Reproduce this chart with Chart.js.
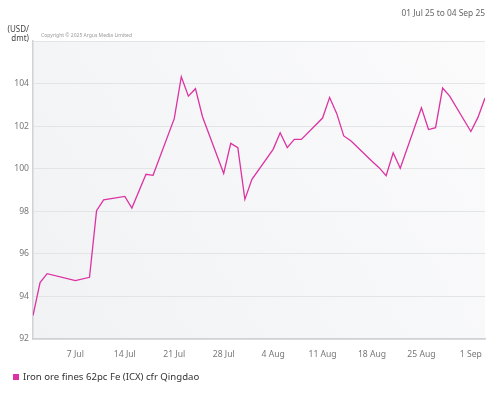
<!DOCTYPE html>
<html>
<head>
<meta charset="utf-8">
<script src="https://cdn.jsdelivr.net/npm/chart.js@4/dist/chart.umd.min.js"></script>
<style>
  html, body { margin: 0; padding: 0; background: #ffffff; }
  #wrap { width: 500px; height: 398px; position: relative; }
</style>
</head>
<body>
<div id="wrap"><canvas id="c" width="500" height="398"></canvas></div>
<script>
// ---- Data ----
const dates = [
  "2025-07-01","2025-07-02","2025-07-03","2025-07-07","2025-07-09","2025-07-10","2025-07-11",
  "2025-07-14","2025-07-15","2025-07-17","2025-07-18",
  "2025-07-21","2025-07-22","2025-07-23","2025-07-24","2025-07-25",
  "2025-07-28","2025-07-29","2025-07-30","2025-07-31","2025-08-01",
  "2025-08-04","2025-08-05","2025-08-06","2025-08-07","2025-08-08",
  "2025-08-11","2025-08-12","2025-08-13","2025-08-14","2025-08-15",
  "2025-08-18","2025-08-19","2025-08-20","2025-08-21","2025-08-22",
  "2025-08-25","2025-08-26","2025-08-27","2025-08-28","2025-08-29",
  "2025-09-01","2025-09-02","2025-09-03"
];
const ironOre = [
  93.1, 94.65, 95.07, 94.74, 94.9, 98.03, 98.54,
  98.7, 98.15, 99.74, 99.69,
  102.35, 104.32, 103.41, 103.76, 102.44,
  99.78, 101.19, 100.99, 98.56, 99.5,
  100.91, 101.69, 100.99, 101.38, 101.38,
  102.38, 103.35, 102.6, 101.54, 101.31,
  100.35, 100.05, 99.67, 100.75, 100.02,
  102.86, 101.84, 101.93, 103.79, 103.41,
  101.75, 102.41, 103.32
];
const tickDates = ["2025-07-07","2025-07-14","2025-07-21","2025-07-28","2025-08-04","2025-08-11","2025-08-18","2025-08-25","2025-09-01"];
const tickLabels = ["7 Jul","14 Jul","21 Jul","28 Jul","4 Aug","11 Aug","18 Aug","25 Aug","1 Sep"];
const seriesName = "Iron ore fines 62pc Fe (ICX) cfr Qingdao";
const rangeText = "01 Jul 25 to 04 Sep 25";
const unitLines = ["(USD/", "dmt)"];
const copyrightText = "Copyright \u00a9 2025 Argus Media Limited";
const startDate = "2025-07-01";
const endDate = "2025-09-03";

// ---- helpers ----
const dayMs = 86400000;
const t0 = Date.parse(startDate + "T00:00:00Z");
const toDay = d => Math.round((Date.parse(d + "T00:00:00Z") - t0) / dayMs);
const points = dates.map((d, i) => ({ x: toDay(d), y: ironOre[i] }));
const tickDays = tickDates.map(toDay);
const lineColor = "#dc32a2";
const FONT = "'Noto Sans', 'DejaVu Sans', sans-serif";

const decor = {
  id: 'decor',
  beforeDraw(chart) {
    const { ctx, chartArea: a } = chart;
    ctx.save();
    const g = ctx.createLinearGradient(a.left, a.bottom, a.right, a.top);
    g.addColorStop(0, '#f1f2f4');
    g.addColorStop(1, '#fbfbfc');
    ctx.fillStyle = g;
    ctx.fillRect(a.left, a.top, a.right - a.left, a.bottom - a.top);
    ctx.restore();
  },
  afterDraw(chart) {
    const { ctx, chartArea: a } = chart;
    ctx.save();
    // date range
    ctx.font = "8.4px " + FONT;
    ctx.fillStyle = '#666';
    ctx.textAlign = 'right';
    ctx.textBaseline = 'middle';
    ctx.fillText(rangeText, a.right, 14);
    // unit
    ctx.font = "8px " + FONT;
    ctx.fillStyle = '#444';
    ctx.fillText(unitLines[0], 29, 29.5);
    ctx.fillText(unitLines[1], 29, 38.5);
    // copyright
    ctx.font = "5px " + FONT;
    ctx.fillStyle = '#999';
    ctx.textAlign = 'left';
    ctx.fillText(copyrightText, 41, 36);
    // legend
    ctx.fillStyle = lineColor;
    ctx.fillRect(13, 374, 6, 6);
    ctx.font = "9.6px " + FONT;
    ctx.fillStyle = '#333';
    ctx.textAlign = 'left';
    ctx.fillText(seriesName, 23, 377);
    ctx.restore();
  }
};

new Chart(document.getElementById('c'), {
  type: 'line',
  data: {
    datasets: [{
      label: seriesName,
      data: points,
      borderColor: lineColor,
      backgroundColor: lineColor,
      borderWidth: 1.3,
      pointRadius: 0,
      tension: 0,
      fill: false
    }]
  },
  options: {
    responsive: false,
    animation: false,
    devicePixelRatio: 1,
    layout: { padding: { left: 0, right: 15, top: 41, bottom: 29 } },
    plugins: {
      legend: { display: false },
      title: { display: false },
      tooltip: { enabled: false }
    },
    scales: {
      x: {
        type: 'linear',
        min: 0,
        max: toDay(endDate),
        afterFit(s) { s.height = 30; },
        afterBuildTicks(s) { s.ticks = tickDays.map(v => ({ value: v })); },
        grid: { display: false, drawTicks: false },
        border: { display: true, color: '#cfd2d6', width: 1.5 },
        ticks: {
          padding: 10,
          color: '#777',
          font: { family: FONT, size: 8.6 },
          maxRotation: 0,
          autoSkip: false,
          callback: v => { const i = tickDays.indexOf(v); return i >= 0 ? tickLabels[i] : ''; }
        }
      },
      y: {
        min: 92,
        max: 106,
        afterFit(s) { s.width = 33; },
        grid: { color: '#e3e4e6', drawTicks: false, lineWidth: 1 },
        border: { display: true, color: '#cfd2d6', width: 1.5 },
        ticks: {
          stepSize: 2,
          padding: 4,
          color: '#777',
          font: { family: FONT, size: 8.6 },
          callback: v => (v === 106 ? '' : v)
        }
      }
    }
  },
  plugins: [decor]
});
</script>
</body>
</html>
